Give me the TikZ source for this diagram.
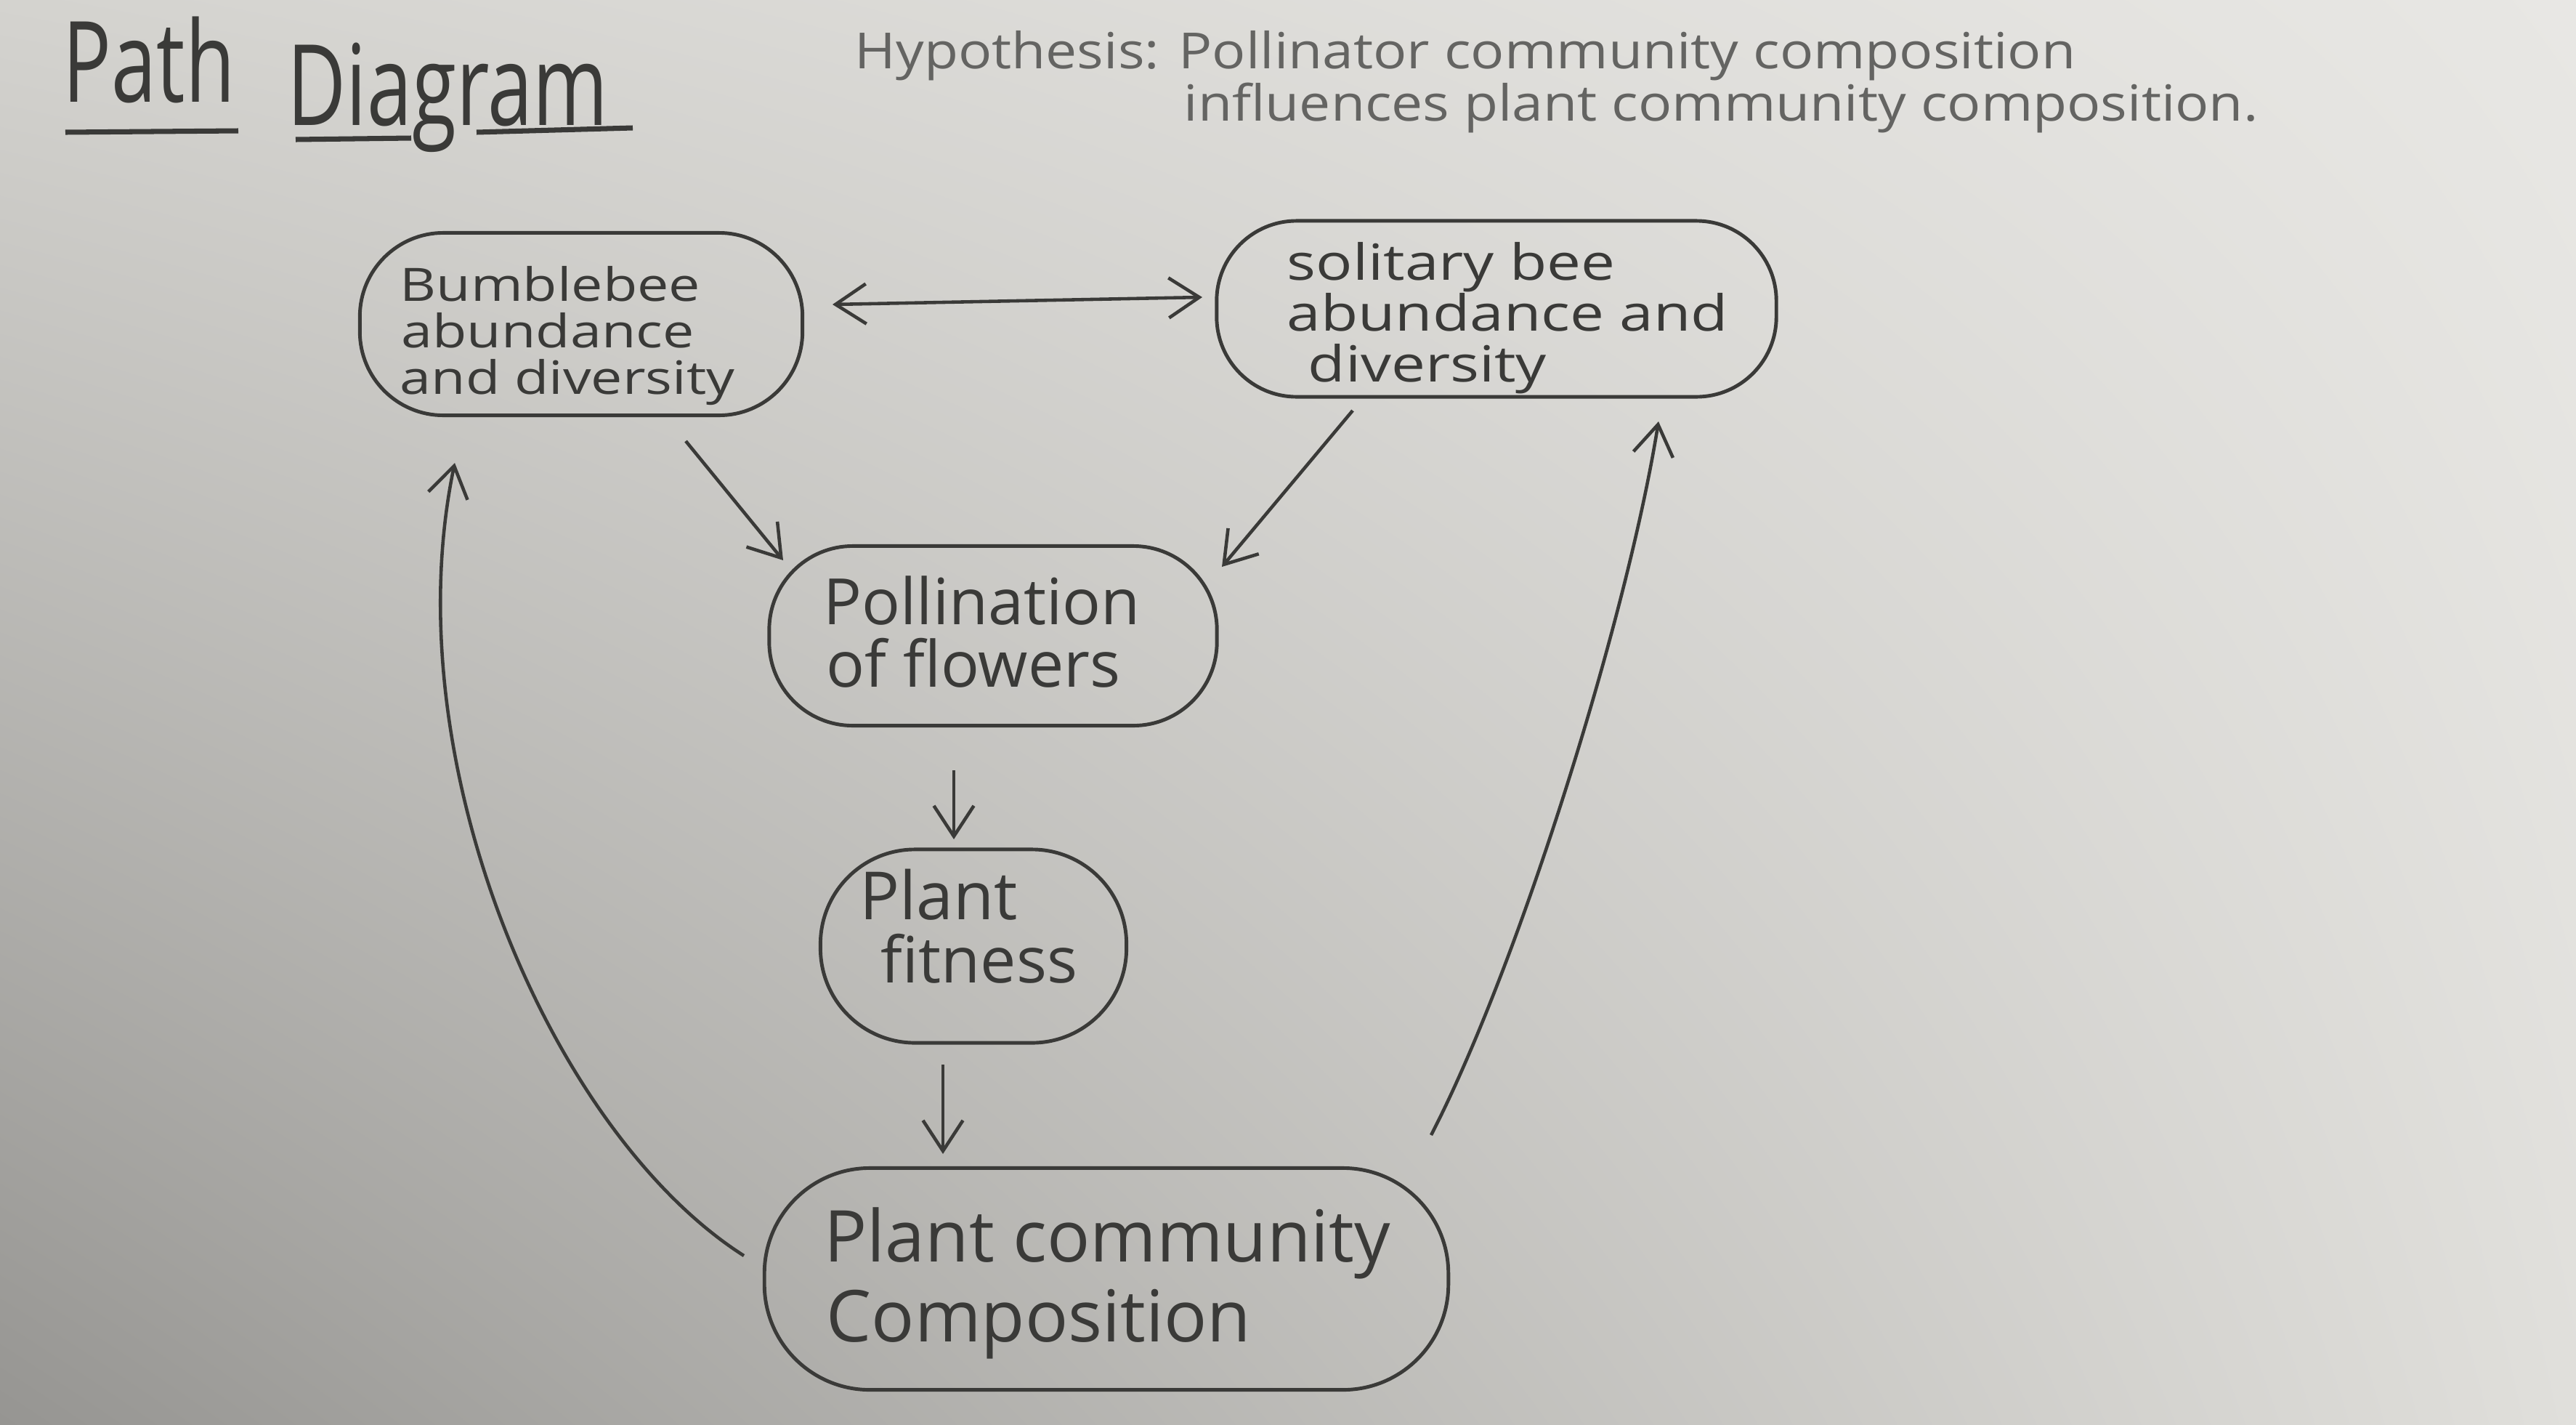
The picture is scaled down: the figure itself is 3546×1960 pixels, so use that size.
\documentclass[tikz,border=0pt]{standalone}
\usepackage{fontspec}
\setmainfont{Open Sans}
\newfontfamily\hand{Open Sans}
\newfontfamily\handn[FakeStretch=0.72]{Open Sans}
\newfontfamily\handw[FakeStretch=1.12]{Open Sans}
\newfontfamily\handx[FakeStretch=1.22]{Open Sans}
\usetikzlibrary{arrows.meta,calc,shadings}
\definecolor{pencil}{RGB}{58,58,56}
\definecolor{pencillight}{RGB}{100,100,98}
\definecolor{bgUL}{RGB}{212,211,207}
\definecolor{bgUR}{RGB}{232,231,228}
\definecolor{bgLL}{RGB}{150,149,146}
\definecolor{bgLR}{RGB}{224,223,219}
\tikzset{
  blob/.style={draw=pencil, line width=1.4pt, inner sep=0pt},
  arr/.style={draw=pencil, line width=1.3pt, -{Straight Barb[length=0.42cm,width=0.55cm]}},
  darr/.style={draw=pencil, line width=1.3pt, {Straight Barb[length=0.42cm,width=0.55cm]}-{Straight Barb[length=0.42cm,width=0.55cm]}},
  lbl/.style={text=pencil, inner sep=0pt, anchor=base west},
  hyp/.style={text=pencillight, inner sep=0pt, anchor=base west, font=\handw\fontsize{19.5}{22}\selectfont},
}
\begin{document}
\begin{tikzpicture}[x=0.01cm,y=-0.01cm]
\useasboundingbox (0,0) rectangle (3546,1960);
\shade[upper left=bgUL, upper right=bgUR, lower left=bgLL, lower right=bgLR] (0,0) rectangle (3546,1960);

% title
\node[lbl, font=\handn\fontsize{44}{48}\selectfont] (tpath) at (86,140) {Path};
\node[lbl, font=\handn\fontsize{44}{48}\selectfont] (tdiag) at (395,172) {Diagram};
\draw[draw=pencil, line width=2pt] (90,182) -- (328,180);
\draw[draw=pencil, line width=2pt] (407,192) -- (566,190);
\draw[draw=pencil, line width=2pt] (656,182) -- (871,176);

% hypothesis
\node[hyp] (hyp1) at (1176,94) {Hypothesis: Pollinator community composition};
\node[hyp] (hyp2) at (1629,166) {influences plant community composition.};

% nodes (shapes)
\node[blob, minimum width=6.09cm, minimum height=2.51cm, rounded corners=1.15cm] (bb) at (800,446) {};
\node[blob, minimum width=7.70cm, minimum height=2.42cm, rounded corners=1.10cm] (sol) at (2060,425) {};
\node[blob, minimum width=6.16cm, minimum height=2.47cm, rounded corners=1.15cm] (pol) at (1367,875) {};
\node[blob, minimum width=4.21cm, minimum height=2.66cm, rounded corners=1.30cm] (fit) at (1340,1302) {};
\node[blob, minimum width=9.41cm, minimum height=3.05cm, rounded corners=1.45cm] (com) at (1523,1760) {};

% node texts
\node[lbl, font=\handx\fontsize{18}{20}\selectfont] (bb1) at (550,414) {Bumblebee};
\node[lbl, font=\handx\fontsize{18}{20}\selectfont] (bb2) at (552,478) {abundance};
\node[lbl, font=\handx\fontsize{18}{20}\selectfont] (bb3) at (550,542) {and diversity};

\node[lbl, font=\handx\fontsize{19.5}{22}\selectfont] (sol1) at (1771,385) {solitary bee};
\node[lbl, font=\handx\fontsize{19.5}{22}\selectfont] (sol2) at (1771,455) {abundance and};
\node[lbl, font=\handx\fontsize{19.5}{22}\selectfont] (sol3) at (1800,525) {diversity};

\node[lbl, font=\hand\fontsize{25}{27}\selectfont] (pol1) at (1133,859) {Pollination};
\node[lbl, font=\hand\fontsize{25}{27}\selectfont] (pol2) at (1137,945) {of flowers};

\node[lbl, font=\hand\fontsize{26}{28}\selectfont] (fit1) at (1183,1265) {Plant};
\node[lbl, font=\hand\fontsize{25}{27}\selectfont] (fit2) at (1212,1352) {fitness};

\node[lbl, font=\hand\fontsize{28}{30}\selectfont] (com1) at (1134,1736) {Plant community};
\node[lbl, font=\hand\fontsize{28}{30}\selectfont] (com2) at (1137,1846) {Composition};

% connectors
\draw[darr] ($(bb)+(346,-27)$) -- ($(sol)+(-405,-16)$);
\draw[arr] ($(bb)+(144,161)$) -- ($(pol)+(-289,-104)$);
\draw[arr] ($(sol)+(-198,140)$) -- ($(pol)+(315,-95)$);
\draw[arr] ($(pol)+(-54,185)$) -- ($(fit)+(-27,-147)$);
\draw[arr] ($(fit)+(-42,163)$) -- ($(com)+(-225,-172)$);
\draw[arr] ($(com)+(-499,-32)$) .. controls (760,1560) and (540,1050) .. ($(bb)+(-174,191)$);
\draw[arr] ($(com)+(447,-198)$) .. controls (2090,1330) and (2240,850) .. ($(sol)+(223,155)$);
\end{tikzpicture}
\end{document}
